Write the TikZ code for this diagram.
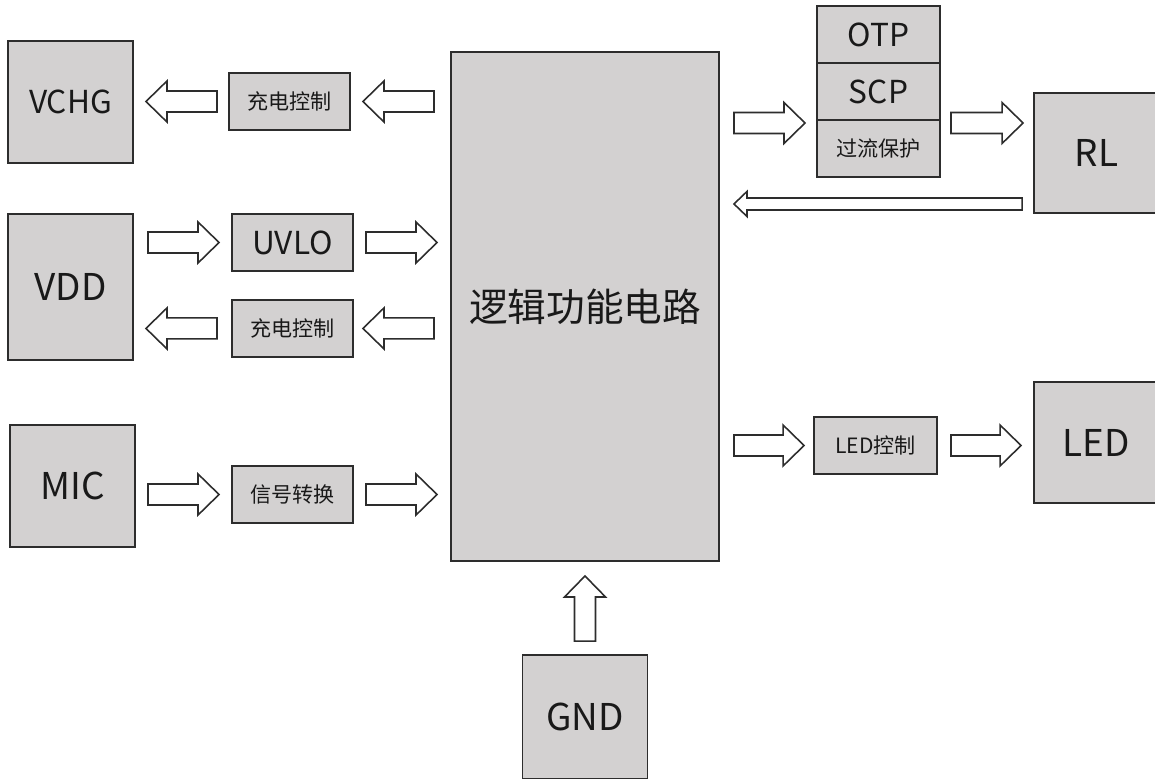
\documentclass[tikz,border=0pt]{standalone}
\usepackage{fontspec}
\setmainfont{Noto Sans CJK SC}
\usetikzlibrary{positioning, calc}

\definecolor{boxgray}{RGB}{211,209,209}
\definecolor{edgegray}{RGB}{45,45,45}
\definecolor{textgray}{RGB}{25,25,25}

% hollow block arrow: start, end, half body, half head, head length
\newcommand{\blockarrowsized}[5]{%
  \coordinate (ba_s) at (#1);
  \coordinate (ba_e) at (#2);
  \coordinate (ba_n) at ($(ba_e)!#5!(ba_s)$);
  \draw [hollow] ($(ba_s)!#3!90:(ba_e)$) -- ($(ba_n)!#3!90:(ba_e)$) -- ($(ba_n)!#4!90:(ba_e)$)
    -- (ba_e) -- ($(ba_n)!#4!-90:(ba_e)$) -- ($(ba_n)!#3!-90:(ba_e)$) -- ($(ba_s)!#3!-90:(ba_e)$) -- cycle;
}
\newcommand{\blockarrow}[2]{\blockarrowsized{#1}{#2}{0.21cm}{0.41cm}{0.42cm}}

\begin{document}
\begin{tikzpicture}[
    term/.style={rectangle, draw=edgegray, line width=1.1pt, fill=boxgray, text=textgray, text centered, minimum width=2.5cm, minimum height=2.44cm},
    unit/.style={rectangle, draw=edgegray, line width=1.1pt, fill=boxgray, text=textgray, text centered, minimum width=2.42cm, minimum height=1.14cm},
    stack/.style={unit, minimum width=2.46cm, outer sep=0pt},
    hollow/.style={draw=edgegray, line width=0.9pt, fill=white, line join=miter},
    bigfont/.style={font=\fontsize{21}{24}\selectfont},
    midfont/.style={font=\fontsize{18}{21}\selectfont},
    cnfont/.style={font=\fontsize{12}{14}\selectfont},
]
    \useasboundingbox (0,0) rectangle (23.1,-15.56);

    \node (main) [rectangle, draw=edgegray, line width=1.1pt, fill=boxgray, text=textgray, minimum width=5.36cm, minimum height=10.18cm, font=\fontsize{22}{26}\selectfont] at (11.7,-6.13) {逻辑功能电路};

    \node (vchg) [term, midfont] at (1.41,-2.04) {VCHG};
    \node (vdd) [term, bigfont, minimum height=2.92cm] at (1.41,-5.74) {VDD};
    \node (mic) [term, bigfont] at (1.45,-9.72) {MIC};
    \node (gnd) [term, bigfont, minimum height=2.48cm] at (11.7,-14.34) {GND};
    \node (rl) [term, bigfont, minimum height=2.4cm] at (21.93,-3.06) {RL};
    \node (led) [term, bigfont, minimum height=2.42cm] at (21.93,-8.85) {LED};

    \node (chg1) [unit, cnfont] at (5.79,-2.03) {充电控制};
    \node (uvlo) [unit, midfont] at (5.85,-4.85) {UVLO};
    \node (chg2) [unit, cnfont, below=0.54cm of uvlo] {充电控制};
    \node (sig) [unit, cnfont] at (5.85,-9.89) {信号转换};
    \node (ledctl) [unit, cnfont, minimum width=2.46cm] at (17.51,-8.91) {LED控制};

    \node (otp) [stack, midfont] at (17.57,-0.69) {OTP};
    \node (scp) [stack, midfont, below=0pt of otp] {SCP};
    \node (ocp) [stack, cnfont, below=0pt of scp] {过流保护};

    \blockarrow{$(chg1.west)+(-0.22,0)$}{$(vchg.east |- chg1.west)+(0.24,0)$}
    \blockarrow{$(main.west |- chg1.west)+(-0.32,0)$}{$(chg1.east)+(0.24,0)$}
    \blockarrow{$(main.east |- scp.south)+(0.28,-0.06)$}{$(scp.south west)+(-0.24,-0.06)$}
    \blockarrow{$(scp.south east)+(0.22,-0.06)$}{$(rl.west |- scp.south)+(-0.2,-0.06)$}
    \blockarrowsized{$(rl.south west)+(-0.22,0.2)$}{$(main.east |- rl.south)+(0.28,0.2)$}{0.12cm}{0.25cm}{0.26cm}
    \blockarrow{$(vdd.east |- uvlo)+(0.28,0)$}{$(uvlo.west)+(-0.24,0)$}
    \blockarrow{$(uvlo.east)+(0.24,0)$}{$(main.west |- uvlo)+(-0.26,0)$}
    \blockarrow{$(main.west |- chg2)+(-0.32,0)$}{$(chg2.east)+(0.18,0)$}
    \blockarrow{$(chg2.west)+(-0.28,0)$}{$(vdd.east |- chg2)+(0.24,0)$}
    \blockarrow{$(mic.east |- sig)+(0.24,0)$}{$(sig.west)+(-0.24,0)$}
    \blockarrow{$(sig.east)+(0.24,0)$}{$(main.west |- sig)+(-0.26,0)$}
    \blockarrow{$(main.east |- ledctl)+(0.28,0)$}{$(ledctl.west)+(-0.18,0)$}
    \blockarrow{$(ledctl.east)+(0.26,0)$}{$(led.west |- ledctl)+(-0.24,0)$}
    \blockarrow{$(gnd.north)+(0,0.26)$}{$(main.south)+(0,-0.28)$}

\end{tikzpicture}
\end{document}
